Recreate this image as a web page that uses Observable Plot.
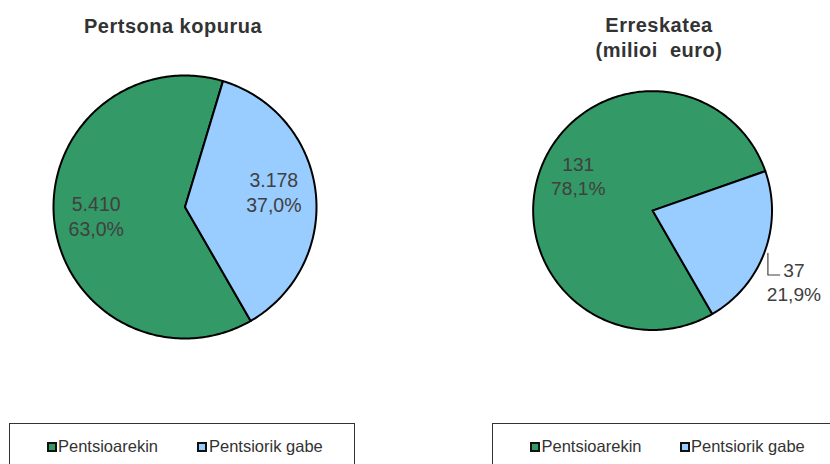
<!DOCTYPE html>
<html><head><meta charset="utf-8">
<script src="https://cdn.jsdelivr.net/npm/d3@7"></script>
<script src="https://cdn.jsdelivr.net/npm/@observablehq/plot@0.6"></script>
<style>
html,body{margin:0;padding:0;background:#fff;}
#root{position:relative;width:830px;height:464px;overflow:hidden;font-family:"Liberation Sans",Arial,sans-serif;}
.title{position:absolute;font-weight:bold;font-size:20px;letter-spacing:0.5px;color:#333;text-align:center;white-space:pre;line-height:25px;transform:translateX(-50%);}
.legend{position:absolute;top:423px;height:60px;border:1.3px solid #333;box-sizing:border-box;}
.item{position:absolute;font-size:16.5px;color:#333;white-space:pre;line-height:18px;}
.sw{position:absolute;width:10px;height:10px;box-sizing:border-box;border:2px solid #111;}
.pie{position:absolute;}
.pie svg{overflow:visible;}
</style></head><body><div id="root"></div>
<script>
// ---- data ----
const categories = ["Pentsioarekin", "Pentsiorik gabe"];
const colors = ["#339966", "#99ccff"];
const titles = ["Pertsona kopurua", "Erreskatea\n(milioi  euro)"];
const personValues = [5410, 3178];
const personPercents = [63.0, 37.0];
const euroValues = [131, 37];
const euroPercents = [78.1, 21.9];

const loc = d3.formatLocale({decimal: ",", thousands: ".", grouping: [3], currency: ["", "€"]});
const fmtNum = loc.format(",.0f");
const fmtPct = loc.format(".1f");

const root = document.getElementById("root");

function piePlot({values, percents, cx, cy, R, ml, mr, mt, mb, labels}) {
  const arcs = d3.pie().sort(null).startAngle(150 * Math.PI / 180).endAngle(510 * Math.PI / 180)(values);
  const pts = [];
  arcs.forEach((a, i) => {
    const n = Math.max(2, Math.ceil((a.endAngle - a.startAngle) / (Math.PI / 180)));
    pts.push({cat: categories[i], x: 0, y: 0});
    for (let k = 0; k <= n; k++) {
      const t = a.startAngle + (a.endAngle - a.startAngle) * k / n;
      pts.push({cat: categories[i], x: Math.sin(t), y: Math.cos(t)});
    }
  });
  const textRows = [];
  const leaders = [];
  arcs.forEach((a, i) => {
    const mid = (a.startAngle + a.endAngle) / 2;
    const L = labels[i];
    const ax = Math.sin(mid) * L.r, ay = Math.cos(mid) * L.r;
    textRows.push({
      text: fmtNum(values[i]) + "\n" + fmtPct(percents[i]) + "%",
      x: ax + L.dx / R, y: ay - L.dy / R
    });
    if (L.leader) {
      leaders.push({x: ax, y: ay, g: i});
      leaders.push({x: ax, y: ay - L.leader[1] / R, g: i});
      leaders.push({x: ax + L.leader[0] / R, y: ay - L.leader[1] / R, g: i});
    }
  });
  const plot = Plot.plot({
    width: 2 * R + ml + mr, height: 2 * R + mt + mb,
    marginLeft: ml, marginRight: mr, marginTop: mt, marginBottom: mb,
    x: {domain: [-1, 1], axis: null},
    y: {domain: [-1, 1], axis: null},
    color: {domain: categories, range: colors},
    style: {background: "transparent", overflow: "visible"},
    marks: [
      Plot.line(pts, {x: "x", y: "y", z: "cat", fill: "cat", stroke: "#000", strokeWidth: 2, curve: "linear-closed", strokeLinejoin: "round"}),
      Plot.line(leaders, {x: "x", y: "y", z: "g", stroke: "#404040", strokeWidth: 1.2}),
      Plot.text(textRows, {x: "x", y: "y", text: "text", fontSize: 19.5, lineHeight: 1.28, fill: "#404040", fontFamily: "Liberation Sans, Arial, sans-serif"})
    ]
  });
  const wrap = document.createElement("div");
  wrap.className = "pie";
  wrap.style.left = (cx - R - ml) + "px";
  wrap.style.top = (cy - R - mt) + "px";
  wrap.appendChild(plot);
  root.appendChild(wrap);
}

piePlot({values: personValues, percents: personPercents, cx: 184, cy: 206.7, R: 131.5, ml: 20, mr: 20, mt: 20, mb: 20,
  labels: [{r: 0.68, dx: 0, dy: -2}, {r: 0.68, dx: 0, dy: -5}]});
piePlot({values: euroValues, percents: euroPercents, cx: 654, cy: 212.5, R: 121.5, ml: 20, mr: 60, mt: 20, mb: 20,
  labels: [{r: 0.69, dx: 3, dy: -7}, {r: 1.03, dx: 26.5, dy: 28.5, leader: [12, 22]}]});

// titles
[[173, 13.5], [659, 12.5]].forEach(([x, y], i) => {
  const d = document.createElement("div");
  d.className = "title";
  d.style.left = x + "px"; d.style.top = y + "px";
  d.textContent = titles[i];
  root.appendChild(d);
});

// legends
const legendBoxes = [{left: 9, width: 346, sw: [47, 197], tx: [58, 209]}, {left: 492, width: 400, sw: [530, 680], tx: [541.5, 691]}];
legendBoxes.forEach(b => {
  const box = document.createElement("div");
  box.className = "legend";
  box.style.left = b.left + "px"; box.style.width = b.width + "px";
  root.appendChild(box);
  categories.forEach((c, i) => {
    const s = document.createElement("div");
    s.className = "sw";
    s.style.left = b.sw[i] + "px"; s.style.top = "442px"; s.style.background = colors[i];
    root.appendChild(s);
    const t = document.createElement("div");
    t.className = "item";
    t.style.left = b.tx[i] + "px"; t.style.top = "437.3px";
    t.textContent = c;
    root.appendChild(t);
  });
});
</script></body></html>
